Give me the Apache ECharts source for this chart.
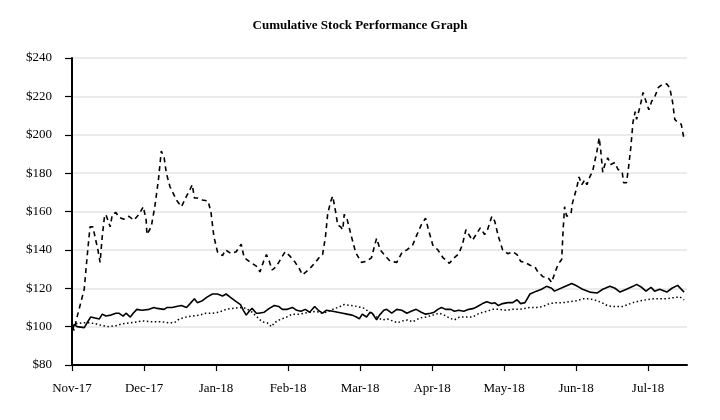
<!DOCTYPE html>
<html>
<head>
<meta charset="utf-8">
<script src="https://cdn.jsdelivr.net/npm/echarts@6/dist/echarts.min.js"></script>
<style>html,body{margin:0;padding:0;background:#fff;}#c{width:720px;height:420px;}</style>
</head>
<body>
<div id="c"></div>
<script>
// Month tick labels (x positions are months since Nov-17)
var monthLabels = ['Nov-17','Dec-17','Jan-18','Feb-18','Mar-18','Apr-18','May-18','Jun-18','Jul-18'];

// Dashed series
var dashedX = [0.00,0.03,0.06,0.17,0.21,0.25,0.29,0.33,0.36,0.39,0.42,0.45,0.47,0.53,0.56,0.61,0.65,0.72,0.79,0.86,0.93,0.99,1.03,1.04,1.10,1.15,1.20,1.24,1.28,1.31,1.36,1.45,1.52,1.59,1.64,1.67,1.70,1.74,1.81,1.89,1.93,1.97,2.02,2.09,2.13,2.21,2.28,2.35,2.39,2.46,2.56,2.61,2.66,2.70,2.74,2.78,2.84,2.91,2.96,3.02,3.09,3.16,3.20,3.25,3.32,3.39,3.44,3.48,3.52,3.55,3.59,3.62,3.66,3.69,3.73,3.76,3.78,3.82,3.88,3.94,4.02,4.09,4.16,4.20,4.23,4.28,4.37,4.42,4.51,4.58,4.65,4.73,4.78,4.85,4.91,4.95,5.01,5.08,5.15,5.24,5.31,5.37,5.42,5.47,5.51,5.56,5.62,5.67,5.73,5.77,5.83,5.87,5.92,5.98,6.05,6.12,6.18,6.23,6.29,6.36,6.43,6.47,6.54,6.61,6.66,6.70,6.75,6.80,6.82,6.84,6.87,6.93,6.95,7.01,7.04,7.08,7.12,7.15,7.19,7.23,7.29,7.32,7.34,7.37,7.40,7.44,7.48,7.54,7.58,7.64,7.66,7.70,7.73,7.76,7.79,7.82,7.84,7.89,7.93,7.97,8.01,8.05,8.09,8.14,8.19,8.26,8.30,8.34,8.37,8.41,8.46,8.50];
var dashedY = [100,98,103.5,119.5,136.5,152,152,145,140,133.5,147,157,158.5,152,158.5,159.5,157,156,157.5,155.5,158.5,162.5,155.5,148,152,162.5,176.5,191.5,188,180,173,166,162.5,168,171.5,174,167,167,166,165.5,159.5,147,139,137,140,138,139,143,136,134,131.5,128.5,134,137.5,134,129.5,131.5,136,139,137,134,130,127,128.5,131,134,136.5,137.5,147,158.5,165,168,160,153,152,150.5,158.5,156,147,138.5,133.5,134,136,142,146,140,136,134,133.5,138.5,140,142.5,147,153,156.5,150.5,142.5,140,136,133,136,138,142.5,150.5,148,145,148.5,151.5,148,150.5,157.5,155,147,140,138,139,137.5,134,133.5,132,131,128.5,126,125.5,123,127.5,132.5,135,150.5,162.5,157.5,159,164.5,172.5,178,174,176.5,174,178,181,191.5,198.5,192.5,180.5,184.5,188,184.5,185.5,182,180.5,175,175,183.5,193.5,206.5,212,208,215,222,217.5,213,217.5,219.5,224.5,226,226.5,224.5,217,208,206.5,205.5,197.5];

// Solid series
var solidX = [0.00,0.01,0.03,0.07,0.17,0.21,0.26,0.32,0.38,0.42,0.47,0.54,0.61,0.65,0.71,0.75,0.81,0.85,0.90,0.97,1.07,1.14,1.18,1.28,1.32,1.39,1.45,1.52,1.59,1.64,1.70,1.74,1.81,1.88,1.95,2.02,2.09,2.14,2.21,2.28,2.34,2.38,2.42,2.46,2.50,2.56,2.59,2.67,2.74,2.81,2.87,2.92,2.99,3.06,3.12,3.18,3.24,3.30,3.37,3.42,3.48,3.53,3.62,3.69,3.76,3.82,3.89,3.95,3.99,4.03,4.09,4.14,4.17,4.23,4.27,4.33,4.37,4.44,4.51,4.58,4.65,4.71,4.78,4.85,4.91,4.98,5.03,5.08,5.13,5.19,5.26,5.31,5.37,5.44,5.51,5.58,5.63,5.70,5.76,5.83,5.87,5.92,5.98,6.05,6.12,6.18,6.23,6.29,6.36,6.45,6.52,6.59,6.66,6.70,6.82,6.94,7.02,7.09,7.19,7.29,7.37,7.47,7.54,7.61,7.70,7.79,7.84,7.91,7.97,8.04,8.09,8.16,8.26,8.33,8.41,8.50];
var solidY = [100,98.5,101,100,99.5,102,105,104.5,104,106.5,105.5,106,107,107,105.5,107,105,107,109,108.5,109,110,109.5,109,110,110,110.5,111,110,112,114.5,112.5,113.5,115.5,117,117,116,117,115,113,111.5,108.5,106,108,109.5,107,107,107.5,109.5,111,110.5,109,109,110,108.5,108,109,107.5,110.5,108.5,107,108.5,108,107.5,107,106.5,106,105,104,106.5,105,107.5,107,103.5,106,108.5,109,107,109,108.5,107,108,109,107.5,106.5,107,107.5,109,110,109,109,108,108.5,108,109,109.5,110.5,112,113,112,112.5,111,112,112.5,112.5,114,112,112.5,117,118.5,119.5,121,120,118.5,120.5,122.5,121,119.5,118,117.5,119.5,121,120,118,119.5,121,122,120.5,118.5,120.5,118.5,119.5,118,120,121.5,118];

// Dotted series
var dottedX = [0.00,0.06,0.14,0.24,0.33,0.42,0.51,0.61,0.70,0.82,0.90,0.97,1.11,1.25,1.35,1.42,1.49,1.59,1.67,1.77,1.86,1.95,2.04,2.14,2.23,2.32,2.42,2.50,2.57,2.64,2.71,2.77,2.81,2.88,2.98,3.06,3.16,3.23,3.30,3.39,3.46,3.53,3.62,3.69,3.78,3.88,3.96,4.06,4.13,4.23,4.31,4.38,4.45,4.52,4.59,4.66,4.73,4.83,4.92,5.01,5.10,5.17,5.24,5.31,5.38,5.48,5.56,5.66,5.76,5.84,5.94,6.04,6.12,6.22,6.29,6.36,6.45,6.54,6.63,6.73,6.82,6.91,7.01,7.09,7.19,7.29,7.36,7.43,7.50,7.57,7.65,7.72,7.79,7.89,7.98,8.07,8.16,8.26,8.34,8.44,8.50];
var dottedY = [101,101.5,102,102,101.5,100.5,100,100.5,101.5,102,102.5,103,102.5,102.5,102,102,104,105,105.5,106,107,107,107.5,109,109.5,110,109.5,107.5,105,102.5,102,100,102,103.5,105,106.5,106.5,107,107.5,108,107,107.5,109,110,111.5,111,110.5,109.5,107.5,105,103.5,104,103,102,103,103.5,102.5,104.5,105,106,107,106,104.5,103.5,105,105,105,107,108,109,109,108.5,109,109,109.5,110,110,110.5,112,112.5,112.5,113,113.5,114.5,114.5,113.5,112.5,111,110.5,110.5,110.5,111.5,112.5,113.5,114,114.5,114.5,114.5,115,115.5,114];

// Y-axis ticks
var yMin = 80, yMax = 240, yStep = 20;

function pairs(xs, ys){ return xs.map(function(x,i){ return [x, ys[i]]; }); }

var chart = echarts.init(document.getElementById('c'), null, {renderer:'canvas'});
var serif = '"Liberation Serif","DejaVu Serif",serif';
var monthTicks = monthLabels.map(function(_, i){ return i; });

chart.setOption({
  animation: false,
  backgroundColor: '#fff',
  title: {
    text: 'Cumulative Stock Performance Graph',
    left: 'center', top: 14,
    textStyle: {fontFamily: serif, fontSize: 13, fontWeight: 'bold', color: '#000'}
  },
  grid: {left: 72, right: 33, top: 58, bottom: 55, containLabel: false},
  xAxis: {
    type: 'value', min: 0, max: 8.54, interval: 1,
    axisLine: {show: true, onZero: false, lineStyle: {color: '#000', width: 2}},
    axisTick: {show: true, length: 6, inside: false, lineStyle: {color: '#000', width: 1.2}, customValues: monthTicks},
    axisLabel: {
      margin: 17, color: '#000', fontFamily: serif, fontSize: 13,
      customValues: monthTicks,
      formatter: function(v){ var i = Math.round(v); return (Math.abs(v - i) < 1e-6 && monthLabels[i]) ? monthLabels[i] : ''; }
    },
    splitLine: {show: false}
  },
  yAxis: {
    type: 'value', min: yMin, max: yMax, interval: yStep,
    axisLine: {show: true, lineStyle: {color: '#000', width: 2}},
    axisTick: {show: true, length: 7, lineStyle: {color: '#000', width: 1.2}},
    axisLabel: {margin: 20, color: '#000', fontFamily: serif, fontSize: 13, formatter: function(v){ return '$' + v; }},
    splitLine: {show: true, lineStyle: {color: '#e4e4e4', width: 1.5}}
  },
  series: [
    {name: 'Dashed', type: 'line', data: pairs(dashedX, dashedY), showSymbol: false, symbol: 'none',
      lineStyle: {color: '#000', width: 1.6, type: [5, 4]}, z: 3},
    {name: 'Solid', type: 'line', data: pairs(solidX, solidY), showSymbol: false, symbol: 'none',
      lineStyle: {color: '#000', width: 1.6, type: 'solid'}, z: 4},
    {name: 'Dotted', type: 'line', data: pairs(dottedX, dottedY), showSymbol: false, symbol: 'none',
      lineStyle: {color: '#000', width: 1.5, type: [1.5, 2.5]}, z: 2}
  ]
});
</script>
</body>
</html>
